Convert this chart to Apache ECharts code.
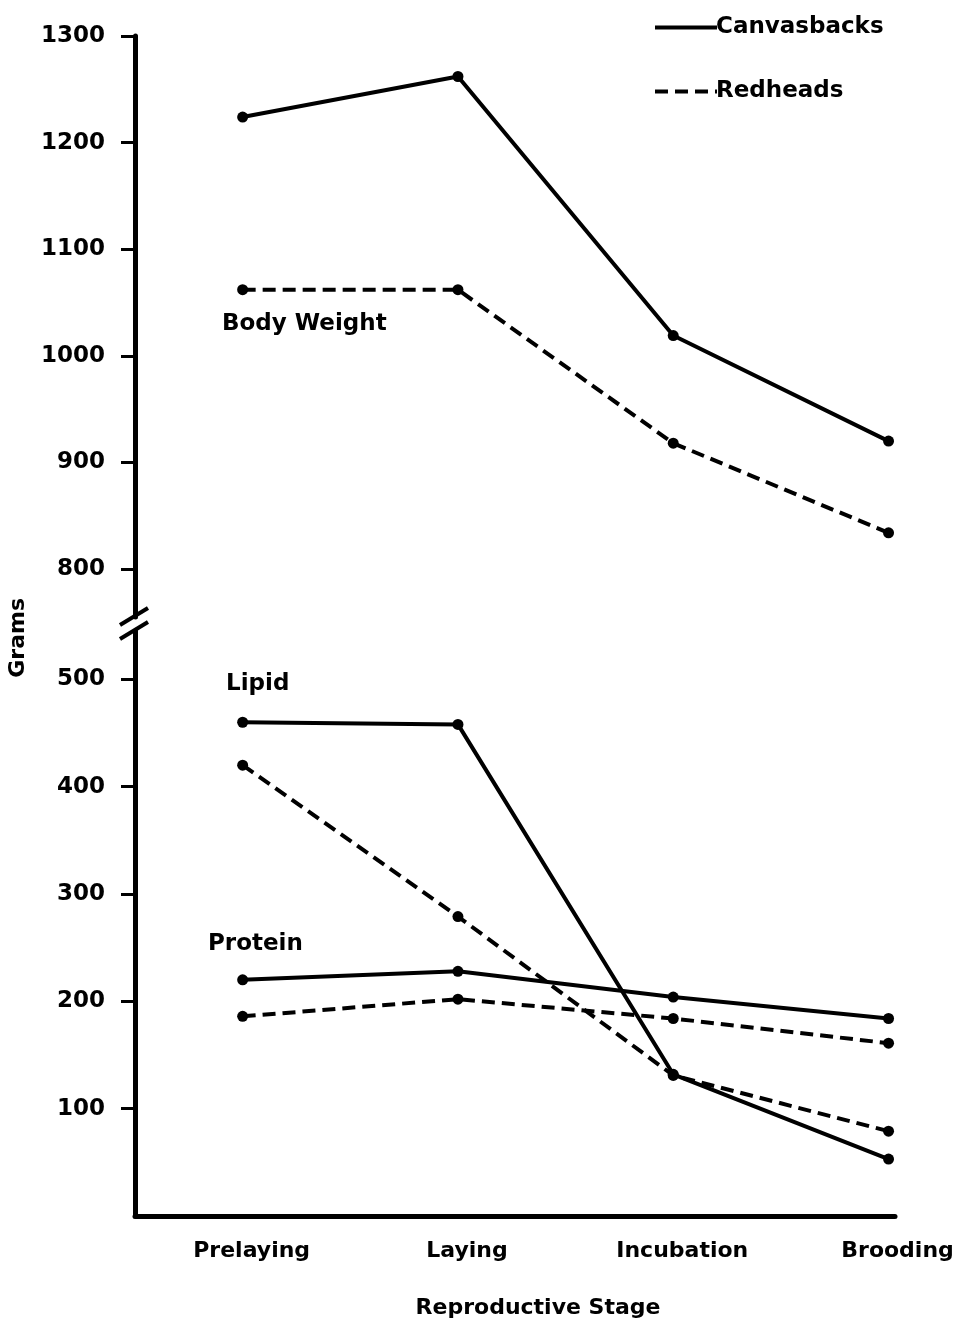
<!DOCTYPE html>
<html>
<head>
<meta charset="utf-8">
<script src="https://cdn.jsdelivr.net/npm/echarts@6/dist/echarts.min.js"></script>
<style>
html,body{margin:0;padding:0;background:#fff;}
#chart{width:957px;height:1323px;}
</style>
</head>
<body>
<div id="chart"></div>
<script>
const stages = ['Prelaying', 'Laying', 'Incubation', 'Brooding'];
const bodyCanvasbacks = [1224, 1262, 1019, 920];
const bodyRedheads = [1062, 1062, 918, 834];
const lipidCanvasbacks = [460, 458, 132, 53];
const lipidRedheads = [420, 279, 131, 79];
const proteinCanvasbacks = [220, 228, 204, 184];
const proteinRedheads = [186, 202, 184, 161];
const upperTicks = [800, 900, 1000, 1100, 1200, 1300];
const lowerTicks = [100, 200, 300, 400, 500];
const stageIdx = [0, 1, 2, 3];

const FONT = 'DejaVu Sans';
const pairs = arr => arr.map((v, i) => [i, v]);

const chart = echarts.init(document.getElementById('chart'), null, {renderer: 'canvas'});

function mkSeries(name, data, grid, dashed) {
  return {
    type: 'line', name: name,
    xAxisIndex: grid, yAxisIndex: grid,
    data: pairs(data),
    symbol: 'circle', symbolSize: 11,
    itemStyle: {color: '#000'},
    lineStyle: {color: '#000', width: 4, type: dashed ? [13, 7] : 'solid'},
    emphasis: {disabled: true},
    animation: false
  };
}

const yAxisCommon = {
  type: 'value',
  axisLine: {show: true, onZero: false, lineStyle: {color: '#000', width: 5}},
  axisTick: {show: true, length: 14, lineStyle: {color: '#000', width: 3}},
  axisLabel: {color: '#000', fontFamily: FONT, fontWeight: 'bold', fontSize: 23, margin: 30, formatter: v => String(v)},
  splitLine: {show: false}
};

const xAxisCommon = {
  type: 'value', min: -0.5, max: 3.03,
  splitLine: {show: false}
};

chart.setOption({
  backgroundColor: '#fff',
  animation: false,
  grid: [
    {left: 135, right: 62, top: 36, height: 581},
    {left: 135, right: 62, top: 631, bottom: 107}
  ],
  legend: {
    orient: 'vertical', left: 648, top: 11,
    itemWidth: 62, itemHeight: 14, itemGap: 41,
    data: ['Canvasbacks', 'Redheads'],
    itemStyle: {opacity: 0},
    lineStyle: {width: 4},
    textStyle: {color: '#000', fontFamily: FONT, fontWeight: 'bold', fontSize: 23, padding: [0, 0, 0, -6]},
    selectedMode: false
  },
  xAxis: [
    Object.assign({}, xAxisCommon, {gridIndex: 0, show: false}),
    Object.assign({}, xAxisCommon, {
      gridIndex: 1,
      axisLine: {show: true, onZero: false, lineStyle: {color: '#000', width: 5}},
      axisTick: {show: false},
      axisLabel: {
        customValues: stageIdx,
        formatter: v => stages[Math.round(v)],
        color: '#000', fontFamily: FONT, fontWeight: 'bold', fontSize: 22,
        margin: 24, padding: [0, 0, 0, 18]
      },
      name: 'Reproductive Stage',
      nameLocation: 'middle', nameGap: 81,
      nameTextStyle: {color: '#000', fontFamily: FONT, fontWeight: 'bold', fontSize: 22, padding: [0, 0, 0, 46]}
    })
  ],
  yAxis: [
    Object.assign({}, yAxisCommon, {
      gridIndex: 0, min: 755, max: 1300,
      axisTick: Object.assign({}, yAxisCommon.axisTick, {customValues: upperTicks}),
      axisLabel: Object.assign({}, yAxisCommon.axisLabel, {customValues: upperTicks})
    }),
    Object.assign({}, yAxisCommon, {
      gridIndex: 1, min: 0, max: 545,
      axisTick: Object.assign({}, yAxisCommon.axisTick, {customValues: lowerTicks}),
      axisLabel: Object.assign({}, yAxisCommon.axisLabel, {customValues: lowerTicks})
    })
  ],
  series: [
    mkSeries('Canvasbacks', bodyCanvasbacks, 0, false),
    mkSeries('Redheads', bodyRedheads, 0, true),
    mkSeries('Canvasbacks', lipidCanvasbacks, 1, false),
    mkSeries('Redheads', lipidRedheads, 1, true),
    mkSeries('Canvasbacks', proteinCanvasbacks, 1, false),
    mkSeries('Redheads', proteinRedheads, 1, true)
  ],
  graphic: [
    {type: 'text', left: 222, top: 313, style: {text: 'Body Weight', font: 'bold 23px "DejaVu Sans"', fill: '#000'}},
    {type: 'text', left: 226, top: 673, style: {text: 'Lipid', font: 'bold 23px "DejaVu Sans"', fill: '#000'}},
    {type: 'text', left: 208, top: 933, style: {text: 'Protein', font: 'bold 23px "DejaVu Sans"', fill: '#000'}},
    {type: 'text', left: 7, top: 598, rotation: Math.PI / 2, originX: 0, originY: 0,
      style: {text: 'Grams', font: 'bold 22px "DejaVu Sans"', fill: '#000'}},
    {type: 'line', shape: {x1: 120, y1: 625, x2: 148, y2: 608}, style: {stroke: '#000', lineWidth: 4}},
    {type: 'line', shape: {x1: 120, y1: 639, x2: 148, y2: 622}, style: {stroke: '#000', lineWidth: 4}}
  ]
});
</script>
</body>
</html>
